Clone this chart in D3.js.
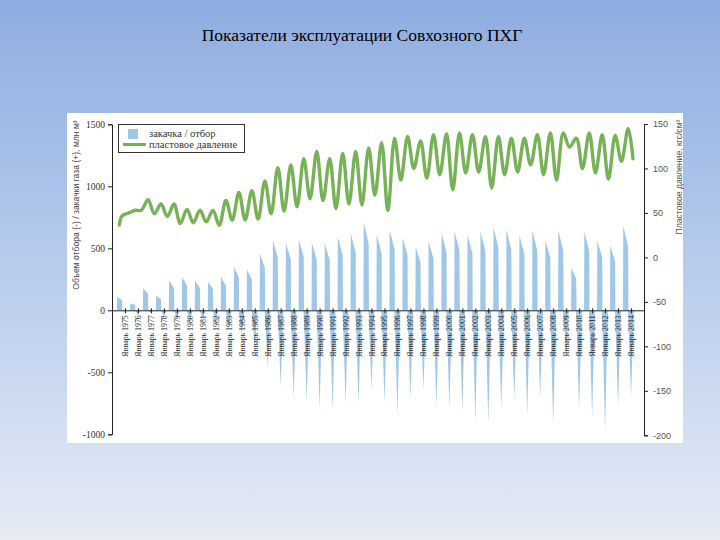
<!DOCTYPE html>
<html><head><meta charset="utf-8">
<script src="https://cdn.jsdelivr.net/npm/d3@7"></script>
<style>body{margin:0;padding:0;}svg{display:block;}</style>
</head><body>
<svg id="chart" width="720" height="540"></svg>
<script>
// ---------- data ----------
const title = "Показатели эксплуатации Совхозного ПХГ";
const leftAxisTitle = "Объем отбора (-) / закачки газа (+), млн м³";
const rightAxisTitle = "Пластовое давление, кгс/см²";
const legendLabels = ["закачка / отбор", "пластовое давление"];

const tickYears = [1975,1976,1977,1978,1979,1980,1981,1982,1983,1984,1985,1986,1987,1988,1989,1990,1991,1992,1993,1994,1995,1996,1997,1998,1999,2000,2001,2002,2003,2004,2005,2006,2007,2008,2009,2010,2011,2012,2013,2014];
const tickLabelPrefix = "Январь";
const leftTicks = [1500,1000,500,0,-500,-1000];
const rightTicks = [150,100,50,0,-50,-100,-150,-200];

// injection season (summer) peaks, млн м³
const injYears = [1974,1975,1976,1977,1978,1979,1980,1981,1982,1983,1984,1985,1986,1987,1988,1989,1990,1991,1992,1993,1994,1995,1996,1997,1998,1999,2000,2001,2002,2003,2004,2005,2006,2007,2008,2009,2010,2011,2012,2013];
const injPeak  = [107,56,177,120,241,268,241,228,268,349,330,458,565,545,572,545,540,592,620,713,611,649,590,510,555,622,640,610,635,670,649,603,644,563,644,340,635,565,523,684];

// withdrawal season (winter) peaks, млн м³ (January of year)
const wdrYears = [1975,1976,1977,1978,1979,1980,1981,1982,1983,1984,1985,1986,1987,1988,1989,1990,1991,1992,1993,1994,1995,1996,1997,1998,1999,2000,2001,2002,2003,2004,2005,2006,2007,2008,2009,2010,2011,2012,2013,2014];
const wdrPeak  = [-10,-40,-20,-50,-70,-90,-80,-110,-150,-200,-290,-461,-614,-710,-746,-791,-805,-751,-756,-644,-746,-845,-710,-644,-778,-791,-818,-890,-910,-805,-724,-845,-710,-925,-375,-805,-864,-979,-778,-710];

// reservoir pressure, кгс/см² : spring minimum and autumn maximum per year
const presYears  = [1975,1976,1977,1978,1979,1980,1981,1982,1983,1984,1985,1986,1987,1988,1989,1990,1991,1992,1993,1994,1995,1996,1997,1998,1999,2000,2001,2002,2003,2004,2005,2006,2007,2008,2009,2010,2011,2012,2013];
const presSpring = [50,53,49,46,38,39,40,36,42,42,43,49,52,57,66,64,55,60,59,70,53,87,100,89,93,76,95,96,78,93,96,104,93,87,124,100,95,88,108];
const presAutumn = [53,65,60,60,54,53,53,64,73,75,86,101,104,111,119,111,117,119,123,129,134,136,131,138,139,140,138,136,136,134,134,138,140,140,134,140,138,137,145];
const presStart = [[1974.56,36.5],[1974.78,46.6]];
const presEnd = [[2014.15,111]];

// ---------- layout ----------
const svg = d3.select("#chart");
const defs = svg.append("defs");
const grad = defs.append("linearGradient").attr("id","bg").attr("x1",0).attr("y1",0).attr("x2",0).attr("y2",1);
grad.append("stop").attr("offset","0%").attr("stop-color","#8eade0");
grad.append("stop").attr("offset","55%").attr("stop-color","#bccfee");
grad.append("stop").attr("offset","100%").attr("stop-color","#e6ebf4");
svg.append("rect").attr("width",720).attr("height",540).attr("fill","url(#bg)");

svg.append("text").attr("x",362).attr("y",41).attr("text-anchor","middle")
  .attr("font-family","'Liberation Serif','Times New Roman',serif").attr("font-size",17.5)
  .attr("fill","#000").text(title);

svg.append("rect").attr("x",67).attr("y",113).attr("width",616).attr("height",330).attr("fill","#fff");

const x = d3.scaleLinear().domain([1974,2015]).range([112,644]);
const yL = d3.scaleLinear().domain([-1000,1500]).range([434.3,124.3]);
const yR = d3.scaleLinear().domain([-200,150]).range([435.3,124]);

const barColor = "#a1c7e8";
const lineColor = "#77b356";

// injection / withdrawal season shapes (fraction of season peak)
const injShape = [[0.38,0],[0.40,1],[0.55,0.9],[0.78,0.75],[0.80,0]];
const wdrShape = [[-0.24,0],[-0.12,0.45],[0,1],[0.1,0.5],[0.22,0]];
const area = d3.line().x(d=>x(d[0])).y(d=>yL(d[1]));

const gBars = svg.append("g");
injYears.forEach((yr,i)=>{
  gBars.append("path").attr("d", area(injShape.map(p=>[yr+p[0], injPeak[i]*p[1]])) + "Z")
    .attr("fill",barColor);
});
wdrYears.forEach((yr,i)=>{
  gBars.append("path").attr("d", area(wdrShape.map(p=>[yr+p[0], wdrPeak[i]*p[1]])) + "Z")
    .attr("fill",barColor);
});

// bottom axis at zero
const xAxis = d3.axisBottom(x).tickValues(tickYears).tickSize(3).tickFormat(d=>tickLabelPrefix+" "+d);
const gx = svg.append("g").attr("transform",`translate(0,${yL(0)})`).call(xAxis);
gx.select(".domain").attr("stroke","#222").attr("stroke-width",1);
gx.selectAll(".tick line").attr("stroke","#222").attr("y1",-2);
gx.selectAll(".tick text")
  .attr("font-family","'Liberation Serif','Times New Roman',serif").attr("font-size",7.8).attr("fill","#222")
  .attr("text-anchor","end").attr("dy","0.32em").attr("y",0)
  .attr("transform","translate(0,5) rotate(-90)");

// left axis
const gl = svg.append("g").attr("transform",`translate(${x(1974)},0)`)
  .call(d3.axisLeft(yL).tickValues(leftTicks).tickSize(4).tickPadding(3).tickFormat(d=>String(d)));
gl.select(".domain").attr("stroke","#222");
gl.selectAll(".tick line").attr("stroke","#222");
gl.selectAll(".tick text").attr("font-family","'Liberation Serif','Times New Roman',serif").attr("font-size",9.5).attr("fill","#333");

// right axis
const gr = svg.append("g").attr("transform",`translate(${x(2015)},0)`)
  .call(d3.axisRight(yR).tickValues(rightTicks).tickSize(4).tickPadding(5).tickFormat(d=>String(d)));
gr.select(".domain").attr("stroke","#222");
gr.selectAll(".tick line").attr("stroke","#222");
gr.selectAll(".tick text").attr("font-family","'Liberation Sans',Arial,sans-serif").attr("font-size",9).attr("fill","#555");

// pressure line
const presPts = presStart.slice();
presYears.forEach((yr,i)=>{
  presPts.push([yr + (i>0 ? 0.26 : 0.3), presSpring[i]]);
  presPts.push([yr+0.78, presAutumn[i]]);
});
presEnd.forEach(p=>presPts.push(p));
const line = d3.line().x(d=>x(d[0])).y(d=>yR(d[1])).curve(d3.curveCatmullRom.alpha(0.5));
svg.append("path").attr("d",line(presPts)).attr("fill","none").attr("stroke",lineColor)
  .attr("stroke-width",3.4).attr("stroke-linejoin","round").attr("stroke-linecap","round");

// axis titles
svg.append("text").attr("transform","translate(79,205) rotate(-90)").attr("text-anchor","middle")
  .attr("font-family","'Liberation Sans',Arial,sans-serif").attr("font-size",8.6).attr("fill","#444").text(leftAxisTitle);
svg.append("text").attr("transform","translate(682,177) rotate(-90)").attr("text-anchor","middle")
  .attr("font-family","'Liberation Sans',Arial,sans-serif").attr("font-size",8.6).attr("fill","#555").text(rightAxisTitle);

// legend
const lg = svg.append("g");
lg.append("rect").attr("x",118.5).attr("y",124.5).attr("width",126).attr("height",28).attr("fill","#fff").attr("stroke","#333").attr("stroke-width",1);
lg.append("rect").attr("x",128).attr("y",129).attr("width",10).attr("height",10).attr("fill",barColor);
lg.append("line").attr("x1",123).attr("x2",146).attr("y1",144.5).attr("y2",144.5).attr("stroke",lineColor).attr("stroke-width",3);
lg.selectAll("text.lab").data(legendLabels).enter().append("text").attr("class","lab")
  .attr("x",149).attr("y",(d,i)=>i===0?137:147.5)
  .attr("font-family","'Liberation Serif','Times New Roman',serif").attr("font-size",10.5).attr("fill","#333").text(d=>d);
</script>
</body></html>
